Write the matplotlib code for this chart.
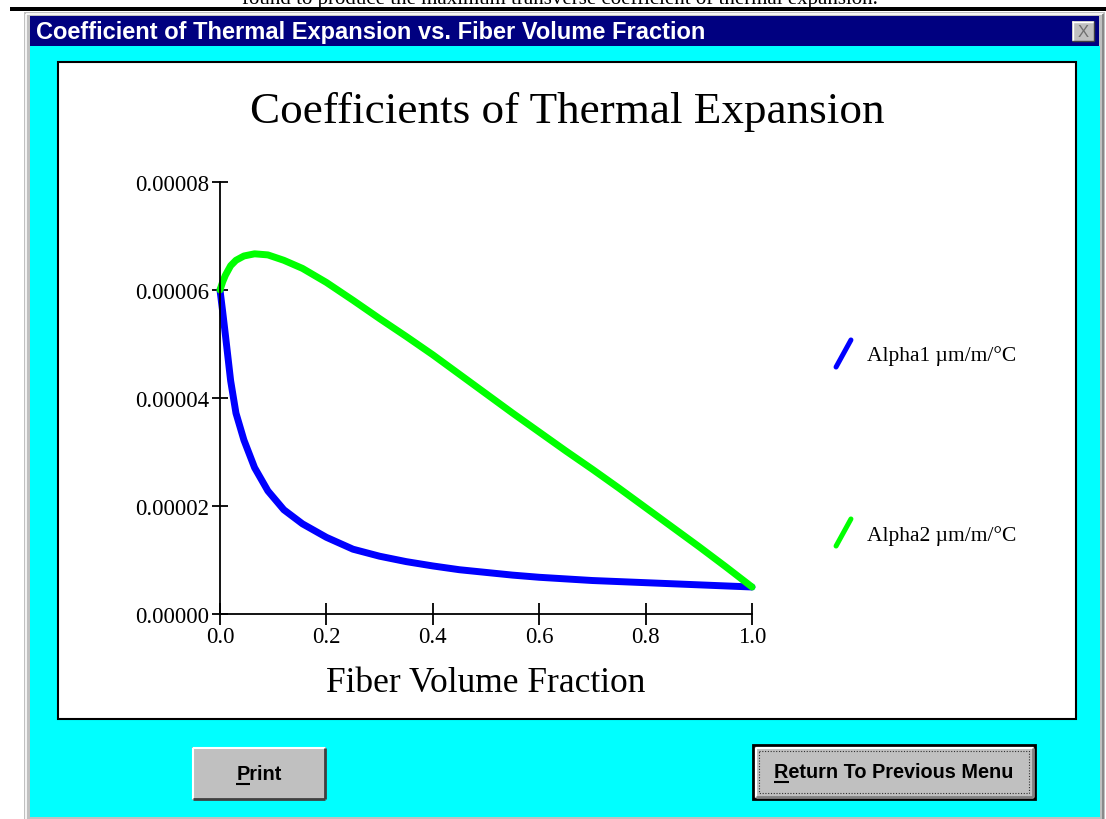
import matplotlib
matplotlib.use('Agg')
import matplotlib.pyplot as plt
from matplotlib.patches import Rectangle
from matplotlib.lines import Line2D
from matplotlib.path import Path
from matplotlib.markers import MarkerStyle

plt.rcParams['font.family'] = ['Liberation Serif', 'DejaVu Serif']

# values (alpha in units of 1e-5 /°C)
fiber_vf = [0, 0.005, 0.01, 0.02, 0.03, 0.045, 0.065, 0.09, 0.12, 0.155, 0.2, 0.25, 0.3,
            0.35, 0.4, 0.45, 0.5, 0.55, 0.6, 0.65, 0.7, 0.75, 0.8, 0.85, 0.9, 0.95, 1.0]
alpha1 = [6.0, 5.6, 5.18, 4.32, 3.72, 3.22, 2.71, 2.28, 1.93, 1.67, 1.42, 1.2, 1.07,
          0.97, 0.89, 0.82, 0.77, 0.72, 0.68, 0.65, 0.62, 0.60, 0.58, 0.56, 0.54, 0.52, 0.50]
alpha2 = [6.0, 6.15, 6.27, 6.45, 6.55, 6.63, 6.67, 6.65, 6.55, 6.40, 6.14, 5.81, 5.47,
          5.14, 4.80, 4.44, 4.08, 3.72, 3.37, 3.02, 2.68, 2.33, 1.97, 1.61, 1.25, 0.88, 0.50]
series_labels = ['Alpha1 µm/m/°C', 'Alpha2 µm/m/°C']
series_colors = ['#0000ff', '#00ff00']

x_ticks = [0.0, 0.2, 0.4, 0.6, 0.8, 1.0]
x_tick_labels = ['0.0', '0.2', '0.4', '0.6', '0.8', '1.0']
y_ticks = [0, 2e-5, 4e-5, 6e-5, 8e-5]
y_tick_labels = ['0.00000', '0.00002', '0.00004', '0.00006', '0.00008']

W, H = 1106, 820
fig = plt.figure(figsize=(W / 100, H / 100), dpi=100)
fig.patch.set_facecolor('white')

# window chrome drawn in pixel coordinates
bg = fig.add_axes([0, 0, 1, 1])
bg.set_xlim(0, W)
bg.set_ylim(H, 0)
bg.axis('off')


def box(x0, y0, x1, y1, **kw):
    bg.add_patch(Rectangle((x0, y0), x1 - x0, y1 - y0, **kw))


def seg(xs, ys, c, lw=1.0):
    bg.plot(xs, ys, color=c, lw=lw, solid_capstyle='butt')


bg.text(560, 4, 'found to produce the maximum transverse coefficient of thermal expansion.',
        ha='center', va='baseline', fontsize=15, color='black')
box(10, 8, W, 12, fc='black', ec='none')

# dialog frame
box(24, 13, 1105, 822, fc='#c0c0c0', ec='none')
seg([26, 26], [15, 820], 'white', 1.2)
seg([26, 1103], [15, 15], 'white', 1.2)
seg([1103, 1103], [15, 820], '#808080', 1.2)
box(30, 17, 1099, 47, fc='#000080', ec='none')
box(30, 47, 1100, 818, fc='#00ffff', ec='none')
bg.text(36, 33, 'Coefficient of Thermal Expansion vs. Fiber Volume Fraction',
        family=['Liberation Sans'], fontweight='bold',
        fontsize=17, color='white', va='center', ha='left')
# close button
box(1072, 22, 1094, 42, fc='#c0c0c0', ec='none')
seg([1072, 1094], [22.5, 22.5], 'white')
seg([1072.5, 1072.5], [22, 42], 'white')
seg([1072, 1094], [41.5, 41.5], '#404040')
seg([1093.5, 1093.5], [22, 42], '#404040')
bg.text(1083, 32.5, 'X', family=['Liberation Sans'], fontsize=12, color='#707070',
        ha='center', va='center')

# white chart panel
box(58, 63, 1076, 720, fc='white', ec='black', lw=1.5)
bg.text(567, 112, 'Coefficients of Thermal Expansion', ha='center', va='center',
        fontsize=32.5, color='black')

buttons = []


def button(x0, y0, x1, y1, label, default=False):
    box(x0, y0, x1, y1, fc='#c0c0c0', ec='black' if default else 'none', lw=2 if default else 0)
    i = 2.5 if default else 1
    seg([x0 + i, x1 - i], [y0 + i, y0 + i], 'white', 1.5)
    seg([x0 + i, x0 + i], [y0 + i, y1 - i], 'white', 1.5)
    seg([x0 + i, x1 - i], [y1 - i, y1 - i], '#404040' if not default else '#808080', 2)
    seg([x1 - i, x1 - i], [y0 + i, y1 - i], '#404040' if not default else '#808080', 2)
    if default:
        box(x0 + 6, y0 + 6, x1 - 6, y1 - 6, fill=False, ec='#303030', lw=0.8, ls=(0, (1, 1.5)))
    cx, cy = (x0 + x1) / 2, (y0 + y1) / 2
    kw = dict(family=['Liberation Sans'], fontweight='bold', fontsize=14.3,
              va='center', color='black')
    t = bg.text(cx, cy, label, ha='center', **kw)
    first = bg.text(0, 0, label[0], ha='left', alpha=0, **kw)
    buttons.append((t, first, cy))


button(192, 748, 326, 801, 'Print')
button(753, 746, 1035, 800, 'Return To Previous Menu', default=True)

# the chart itself
ax = fig.add_axes([220 / W, 1 - 615 / H, 532 / W, 432 / H])
ax.patch.set_alpha(0)
ys = [alpha1, alpha2]
handles = []
slash = MarkerStyle(Path([(-0.55, -1), (0.55, 1)], [Path.MOVETO, Path.LINETO]),
                    capstyle='round')
for vals, c, lab in zip(ys, series_colors, series_labels):
    ax.plot(fiber_vf, [v * 1e-5 for v in vals], color=c, lw=5,
            solid_capstyle='round', solid_joinstyle='round', clip_on=False)
    handles.append(Line2D([], [], ls='none', marker=slash, ms=19.5, mew=3.6,
                          color=c, mfc='none', label=lab))

ax.set_xlim(0, 1)
ax.set_ylim(0, 8e-5)
ax.set_xticks(x_ticks)
ax.set_xticklabels(x_tick_labels)
ax.set_yticks(y_ticks)
ax.set_yticklabels(y_tick_labels)
for s in ['top', 'right']:
    ax.spines[s].set_visible(False)
for s in ['left', 'bottom']:
    ax.spines[s].set_linewidth(1.3)
    ax.spines[s].set_color('black')
ax.tick_params(axis='y', direction='inout', length=11, width=1.3, labelsize=16.5, pad=2)
ax.tick_params(axis='x', direction='inout', length=16, width=1.3, labelsize=16.5, pad=1)
ax.set_xlabel('Fiber Volume Fraction', fontsize=25.5, labelpad=13)

leg = ax.legend(handles=handles, loc='center left',
                bbox_to_anchor=(830 / W, 1 - 446 / H), bbox_transform=fig.transFigure,
                frameon=False, fontsize=15.5, borderpad=0, borderaxespad=0,
                handlelength=1.2, handletextpad=0.5, labelspacing=7.4)

# underline the mnemonic letter of each button
fig.canvas.draw()
r = fig.canvas.get_renderer()
for t, first, cy in buttons:
    left = t.get_window_extent(r).x0
    w = first.get_window_extent(r).width
    seg([left, left + w], [cy + 10, cy + 10], 'black', 1.5)

fig.savefig('out.png', dpi=100)
